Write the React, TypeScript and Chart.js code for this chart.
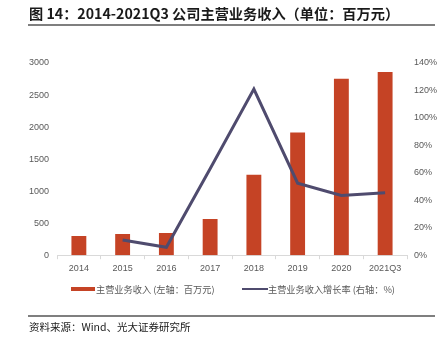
import React, { useEffect, useRef } from "react";
import { Chart, registerables } from "chart.js";

Chart.register(...registerables);

const categories = ["2014", "2015", "2016", "2017", "2018", "2019", "2020", "2021Q3"];
const revenue = [300, 330, 348, 565, 1255, 1915, 2755, 2860];
const growth = [null, 11, 5.8, 63, 121, 52.5, 43.5, 45.5];
const leftTicks = [0, 3000, 500];
const rightTicks = [0, 140, 20];
const seriesNames = ["主营业务收入 (左轴：百万元)", "主营业务收入增长率 (右轴：%)"];
const titleText = "图 14：2014-2021Q3 公司主营业务收入（单位：百万元）";
const sourceText = "资料来源：Wind、光大证券研究所";

const BAR_COLOR = "#C54325";
const LINE_COLOR = "#4F4B6E";
const CJK = '"Noto Sans CJK SC", "Noto Sans", sans-serif';
const LATIN = '"Liberation Sans", Arial, sans-serif';

export default function App() {
  const ref = useRef<HTMLCanvasElement | null>(null);

  useEffect(() => {
    if (!ref.current) return;
    const chart = new Chart(ref.current, {
      data: {
        labels: categories,
        datasets: [
          {
            type: "bar",
            label: seriesNames[0],
            data: revenue,
            backgroundColor: BAR_COLOR,
            borderWidth: 0,
            barPercentage: 0.34,
            categoryPercentage: 1,
            yAxisID: "y",
            order: 2,
          },
          {
            type: "line",
            label: seriesNames[1],
            data: growth,
            borderColor: LINE_COLOR,
            backgroundColor: LINE_COLOR,
            borderWidth: 3,
            pointRadius: 0,
            tension: 0,
            yAxisID: "y1",
            order: 1,
          },
        ] as any,
      },
      options: {
        animation: false,
        responsive: false,
        maintainAspectRatio: false,
        layout: { padding: { left: 24, right: 3, top: 63, bottom: 68 } },
        plugins: {
          title: { display: false },
          tooltip: { enabled: false },
          legend: { display: false },
        },
        scales: {
          x: {
            offset: true,
            grid: {
              display: true,
              drawOnChartArea: false,
              drawTicks: true,
              tickLength: 4,
              color: "#D9D9D9",
              offset: true,
            },
            border: { display: true, color: "#D9D9D9" },
            ticks: { color: "#595959", font: { family: LATIN, size: 9 }, padding: 4 },
          },
          y: {
            position: "left",
            min: leftTicks[0],
            max: leftTicks[1],
            ticks: {
              stepSize: leftTicks[2],
              color: "#595959",
              font: { family: LATIN, size: 9 },
              padding: 8,
              callback: (v: any) => String(v),
            },
            grid: { display: false, drawTicks: false },
            border: { display: false },
            afterFit: (s: any) => { s.width = 33; },
          },
          y1: {
            position: "right",
            min: rightTicks[0],
            max: rightTicks[1],
            ticks: {
              stepSize: rightTicks[2],
              color: "#595959",
              font: { family: LATIN, size: 9 },
              padding: 7,
              callback: (v: any) => v + "%",
            },
            grid: { display: false, drawTicks: false },
            border: { display: false },
            afterFit: (s: any) => { s.width = 33; },
          },
        },
      } as any,
    });
    return () => chart.destroy();
  }, []);

  const legendText: React.CSSProperties = {
    position: "absolute",
    top: 282,
    fontFamily: CJK,
    fontSize: 9.2,
    lineHeight: "14px",
    color: "#595959",
    whiteSpace: "nowrap",
  };

  return (
    <div style={{ position: "absolute", left: 0, top: 0, width: 443, height: 346, background: "#fff", overflow: "hidden" }}>
      <canvas ref={ref} width={443} height={346} style={{ position: "absolute", left: 0, top: 0, width: 443, height: 346 }} />
      <div style={{ position: "absolute", left: 29, top: 3, fontFamily: CJK, fontWeight: 700, fontSize: 14.2, lineHeight: "20px", color: "#1a1a1a", whiteSpace: "nowrap" }}>
        {titleText}
      </div>
      <div style={{ position: "absolute", left: 28, top: 24, width: 407, height: 2, background: "#7F7F7F" }} />
      <div style={{ position: "absolute", left: 71, top: 287, width: 24, height: 4, background: BAR_COLOR }} />
      <div style={{ ...legendText, left: 96 }}>{seriesNames[0]}</div>
      <div style={{ position: "absolute", left: 242, top: 288, width: 26, height: 2, background: LINE_COLOR }} />
      <div style={{ ...legendText, left: 268 }}>{seriesNames[1]}</div>
      <div style={{ position: "absolute", left: 28, top: 315, width: 407, height: 2, background: "#7F7F7F" }} />
      <div style={{ position: "absolute", left: 29, top: 319, fontFamily: CJK, fontSize: 10.5, lineHeight: "16px", color: "#1a1a1a", whiteSpace: "nowrap" }}>
        {sourceText}
      </div>
    </div>
  );
}
